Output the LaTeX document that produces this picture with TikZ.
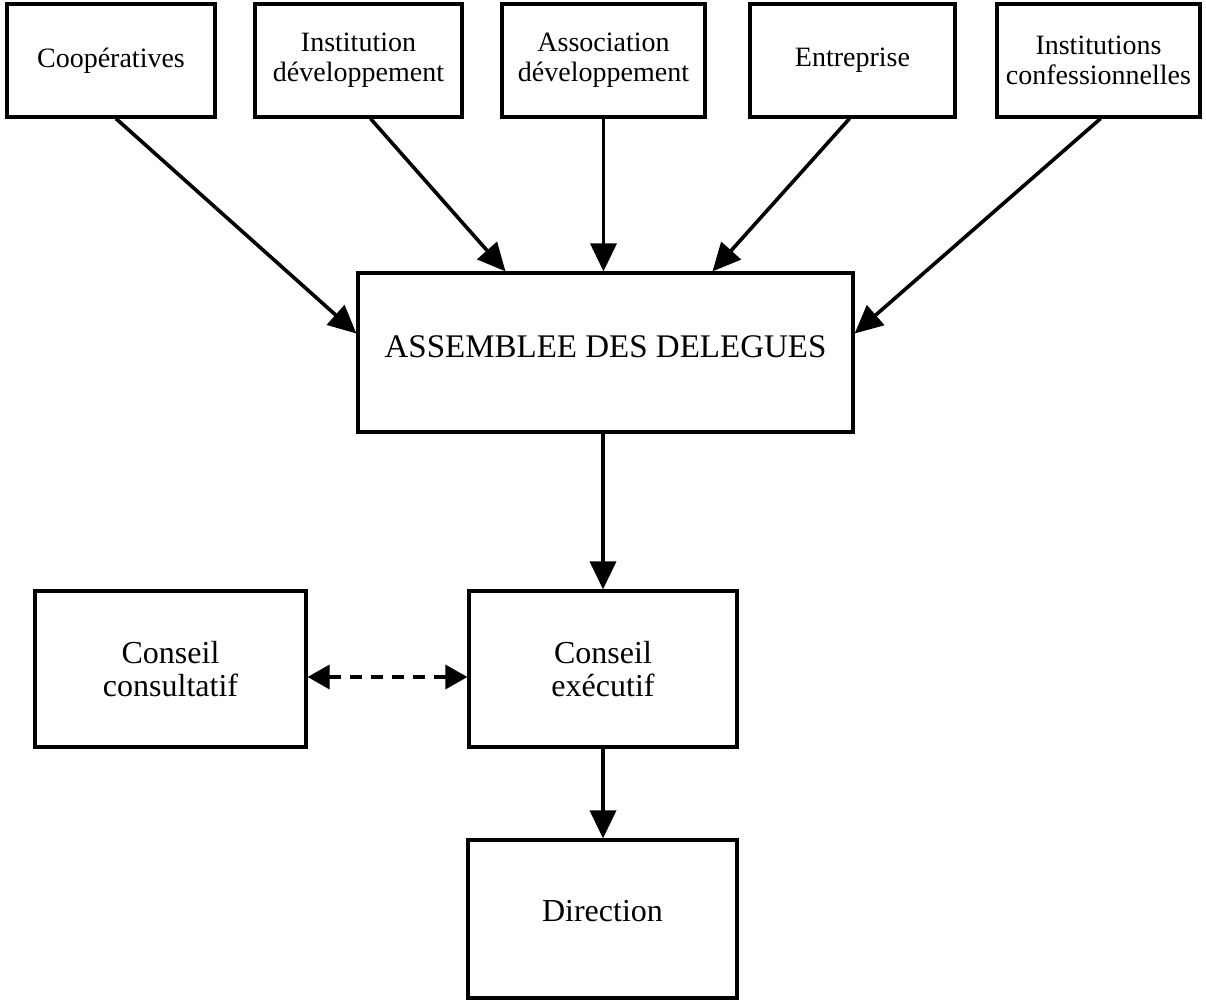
\documentclass[tikz,border=0pt]{standalone}
\usepackage{fontspec}
\setmainfont{Liberation Serif}
\usetikzlibrary{arrows.meta}
\begin{document}
\begin{tikzpicture}[x=1pt,y=-1pt,
  box/.style={draw,line width=3.2pt,inner sep=0pt,align=center},
  topbox/.style={box,minimum height=113pt,font=\fontsize{28}{30}\selectfont},
  lowbox/.style={box,font=\fontsize{32}{33}\selectfont},
  conn/.style={line width=3.6pt,-{Triangle[length=28pt,width=26pt]}},
  dconn/.style={line width=3.6pt,dash pattern=on 12pt off 9pt,{Triangle[length=22pt,width=24pt]}-{Triangle[length=22pt,width=24pt]}}]
\useasboundingbox (0,0) rectangle (1206,1002);
\node[topbox,minimum width=208pt] (coop) at (111,60.5) {Coopératives};
\node[topbox,minimum width=207pt] (inst) at (358.5,60.5) {Institution\\développement};
\node[topbox,minimum width=203pt] (assoc) at (603.5,60.5) {Association\\développement};
\node[topbox,minimum width=205pt] (entr) at (852.5,60.5) {Entreprise};
\node[topbox,minimum width=203pt] (conf) at (1098.5,60.5) {Institutions\\confessionnelles};
\node[box,minimum width=495pt,minimum height=159pt,font=\fontsize{33}{34}\selectfont] (asm) at (605.5,352.5) {\raisebox{12pt}{ASSEMBLEE DES DELEGUES}};
\node[lowbox,minimum width=271pt,minimum height=156pt] (cons) at (170.5,669) {Conseil\\consultatif};
\node[lowbox,minimum width=268pt,minimum height=156pt] (exec) at (603,669) {Conseil\\exécutif};
\node[lowbox,minimum width=269pt,minimum height=158pt] (dir) at (602.5,919) {\raisebox{16pt}{Direction}};
\draw[conn] ([xshift=5pt]coop.south) -- ([yshift=19pt]asm.west);
\draw[conn] ([xshift=12pt]inst.south) -- ([xshift=-100pt]asm.north);
\draw[conn] (assoc.south) -- (assoc.south |- asm.north);
\draw[conn] ([xshift=-3pt]entr.south) -- ([xshift=107pt]asm.north);
\draw[conn] ([xshift=2pt]conf.south) -- ([yshift=19pt]asm.east);
\draw[conn] (asm.south -| exec.north) -- (exec.north);
\draw[conn] (exec.south) -- (exec.south |- dir.north);
\draw[dconn] ([yshift=-8pt]cons.east) -- ([yshift=-8pt]exec.west);
\end{tikzpicture}
\end{document}
